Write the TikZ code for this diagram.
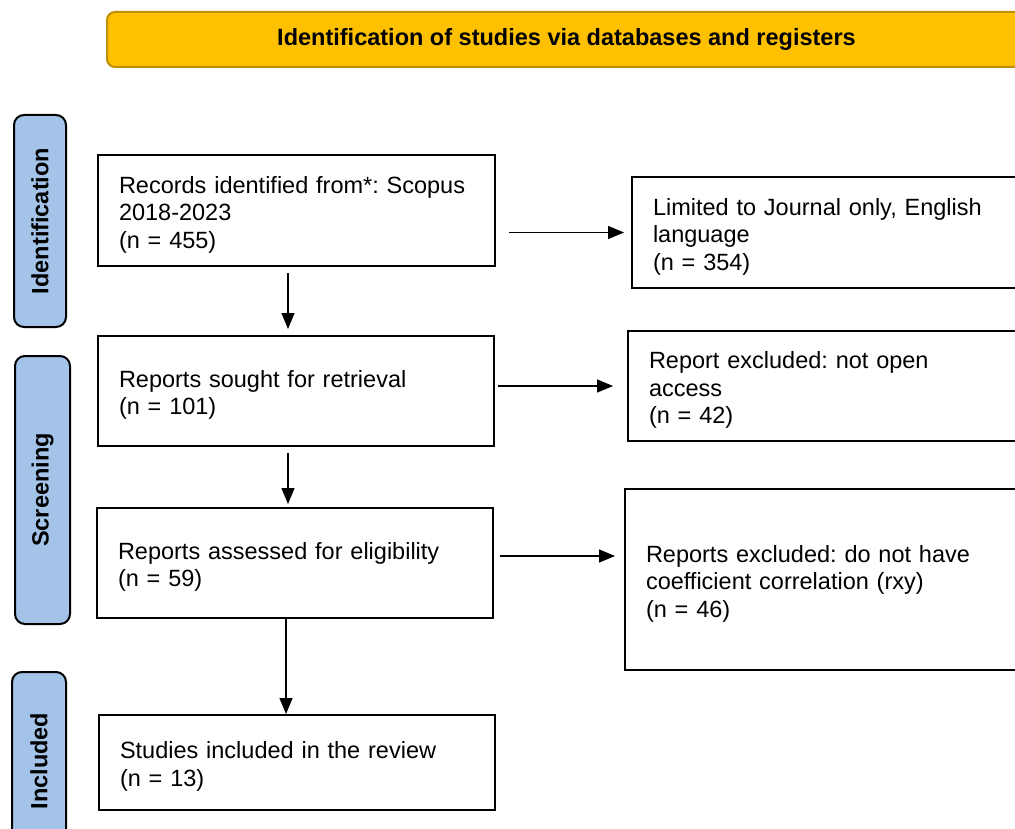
\documentclass[tikz,border=0pt]{standalone}
\usepackage{fontspec}
\setmainfont{Liberation Sans}
\usepackage{xcolor}
\usepackage{tikz}
\usetikzlibrary{positioning, arrows.meta, calc}
\frenchspacing

\definecolor{headerfill}{HTML}{FFC000}
\definecolor{headerline}{HTML}{BF9000}
\definecolor{phasefill}{HTML}{A3C3E8}

% one flow box: name, centre, text width, height, text
\newcommand{\prismabox}[5]{%
    \node[flow_box, text width=#3, minimum height=#4] (#1) at #2 {#5};
}

\begin{document}
\begin{tikzpicture}[
        x=1pt, y=-1pt,
        >=Triangle,
        flow_box/.style={draw, line width=2pt, align=left, inner xsep=21pt, inner ysep=0pt,
            font=\fontsize{23.5}{27.5}\selectfont, execute at begin node={\rule{0pt}{25pt}}},
        phase_bar/.style={draw, line width=2pt, fill=phasefill, rounded corners=10pt, rotate=90,
            inner sep=0pt, font=\fontsize{23.5}{27.5}\selectfont\bfseries},
        header_bar/.style={draw=headerline, line width=2pt, fill=headerfill, rounded corners=8pt,
            inner sep=0pt, font=\fontsize{23.5}{27.5}\selectfont\bfseries},
        arrow_style/.style={-{Triangle[length=16pt, width=13pt]}, line width=1.3pt, draw=black}
    ]

    \useasboundingbox (0,0) rectangle (1015,829);
    \clip (0,0) rectangle (1015,829);

    % =========================================================================
    % 1. HEADER AND PHASE BARS
    % =========================================================================
    \node[header_bar, minimum width=919pt, minimum height=55pt] (Header) at (566.5,39.5)
        {Identification of studies via databases and registers};

    \node[phase_bar, minimum width=212pt, minimum height=52pt] (PhaseIdent) at (40,221) {Identification};
    \node[phase_bar, minimum width=268pt, minimum height=55pt] (PhaseScreen) at (42.5,490) {Screening};
    \node[phase_bar, minimum width=178pt, minimum height=54pt] (PhaseIncl) at (39,761) {Included};

    % =========================================================================
    % 2. FLOW BOXES
    % =========================================================================

    % Main column
    \prismabox{Records}{(296.5,210.5)}{355pt}{111pt}{Records identified from*: Scopus\\2018-2023\\(n = 455)}
    \prismabox{Sought}{(296,391)}{354pt}{110pt}{Reports sought for retrieval\\(n = 101)}
    \prismabox{Assessed}{(295,563)}{354pt}{110pt}{Reports assessed for eligibility\\(n = 59)}
    \prismabox{Included}{(297,762.5)}{354pt}{95pt}{Studies included in the review\\(n = 13)}

    % Excluded column
    \prismabox{ExclLang}{(836,232.5)}{366pt}{111pt}{Limited to Journal only, English\\language\\(n = 354)}
    \prismabox{ExclAccess}{(834,386)}{370pt}{110pt}{Report excluded: not open\\access\\(n = 42)}
    \prismabox{ExclRxy}{(832.5,579.5)}{373pt}{181pt}{Reports excluded: do not have\\coefficient correlation (rxy)\\(n = 46)}

    % Arrow origins under / beside the main column
    \coordinate (RecordsOut) at ($(Records.south)+(-8.5,0)$);
    \coordinate (SoughtOut) at ($(Sought.south)+(-8,0)$);
    \coordinate (AssessedOut) at ($(Assessed.south)+(-9,0)$);
    \coordinate (AssessedSide) at ($(Assessed.east)+(0,-7)$);

    % =========================================================================
    % 3. CONNECTING ARROWS
    % =========================================================================

    % Downward arrows
    \draw[arrow_style, shorten <=6pt, shorten >=6pt] (RecordsOut) -- (RecordsOut |- Sought.north);
    \draw[arrow_style, shorten <=6pt, shorten >=3pt] (SoughtOut) -- (SoughtOut |- Assessed.north);
    \draw[arrow_style] (AssessedOut) -- (AssessedOut |- Included.north);

    % Sideways arrows
    \draw[arrow_style, shorten <=13pt, shorten >=7pt] (Records.east |- ExclLang.west) -- (ExclLang.west);
    \draw[arrow_style, shorten <=3pt, shorten >=14pt] (Sought.east |- ExclAccess.west) -- (ExclAccess.west);
    \draw[arrow_style, shorten <=6pt, shorten >=9pt] (AssessedSide) -- (AssessedSide -| ExclRxy.west);

\end{tikzpicture}
\end{document}
